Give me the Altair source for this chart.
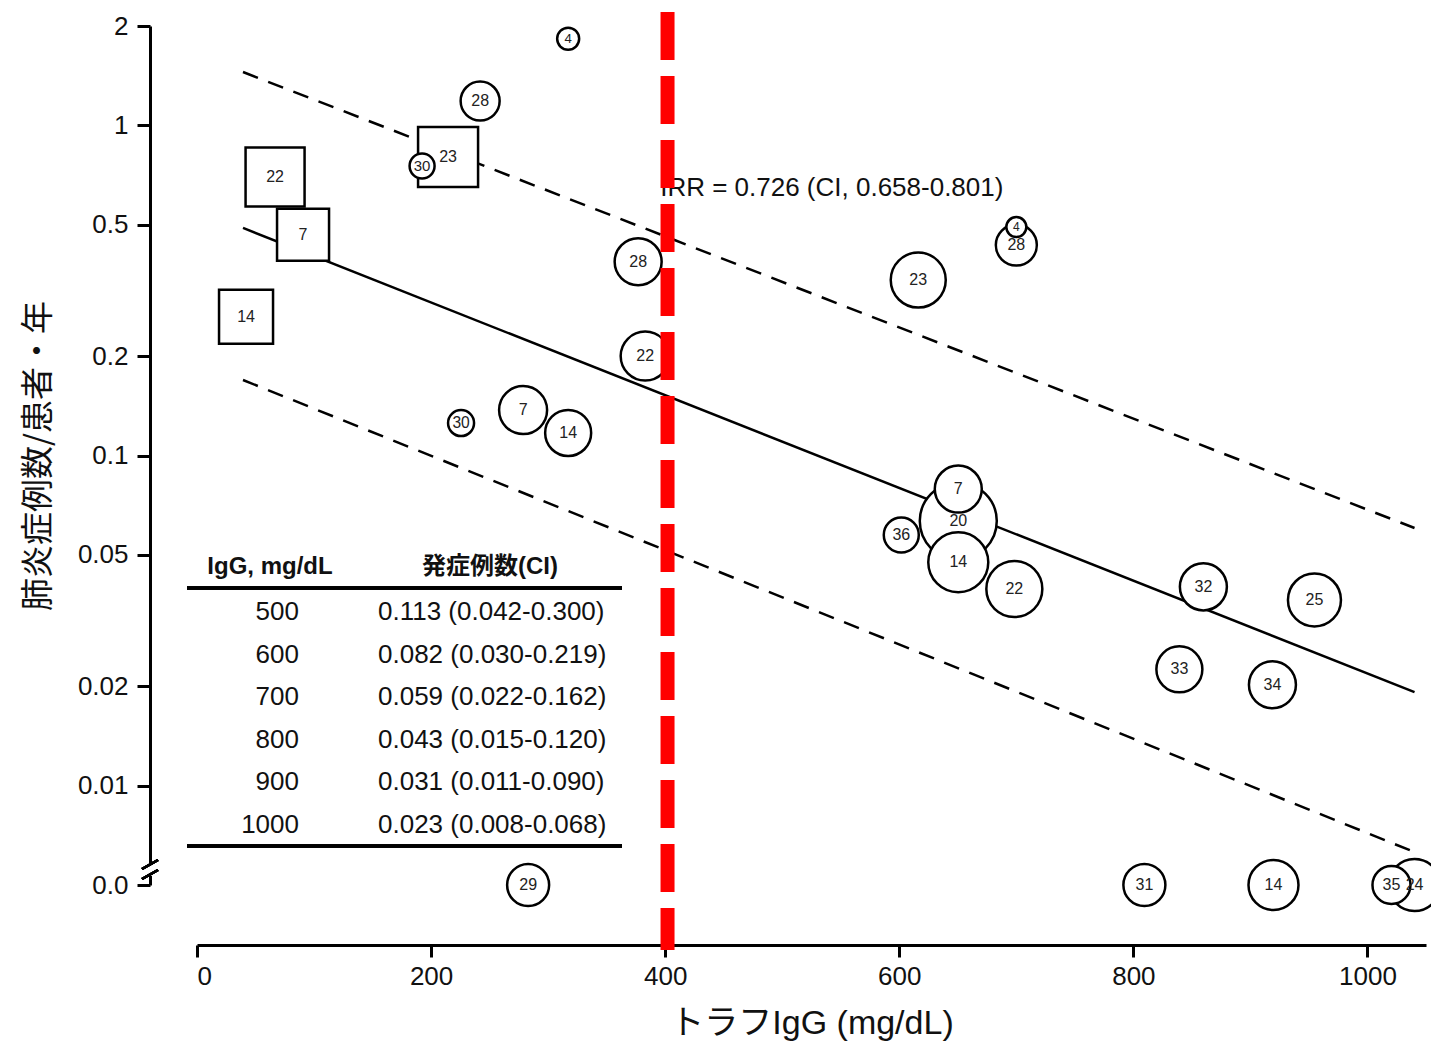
import altair as alt
import pandas as pd
import numpy as np

# ---------------- data ----------------
study_ids = ["22", "7", "14", "23",
             "4", "28", "30", "28", "22", "30", "7", "14", "23", "4", "28",
             "7", "20", "14", "36", "22", "32", "25", "33", "34",
             "29", "31", "14", "35", "24"]
trough_igg = [66.7, 90.6, 41.9, 214.5,
              317.1, 241.9, 192.3, 376.9, 382.9, 225.6, 278.6, 317.1, 616.2, 700.0, 700.0,
              650.4, 650.4, 650.4, 601.7, 698.3, 859.8, 954.7, 839.3, 918.8,
              282.9, 809.4, 919.7, 1020.5, 1040.2]
pneumonia_rate = [0.698, 0.466, 0.263, 0.802,
                  1.83, 1.185, 0.753, 0.386, 0.200, 0.1254, 0.1373, 0.117, 0.340, 0.492, 0.434,
                  0.0791, 0.0633, 0.0475, 0.0574, 0.0394, 0.0400, 0.0365, 0.0225, 0.0202,
                  0.0, 0.0, 0.0, 0.0, 0.0]
study_design = ["square"] * 4 + ["circle"] * 25
study_weight = [59, 52, 54, 60,
                22, 39, 25, 47, 49, 26, 48, 46, 55, 20, 41,
                47, 77, 60, 35, 56, 47, 53, 46, 47,
                42, 42, 50, 38, 52]

fit_igg = [39.3, 1040.2]
fit_rate = [0.489, 0.0192]
fit_upper = [1.451, 0.0603]
fit_lower = [0.1693, 0.00629]

threshold_igg = 402
irr_text = "IRR = 0.726 (CI, 0.658-0.801)"

table_igg = ["500", "600", "700", "800", "900", "1000"]
table_rate = ["0.113 (0.042-0.300)", "0.082 (0.030-0.219)", "0.059 (0.022-0.162)",
              "0.043 (0.015-0.120)", "0.031 (0.011-0.090)", "0.023 (0.008-0.068)"]
table_header = ["IgG, mg/dL", "発症例数(CI)"]

y_ticks = [0.005, 0.01, 0.02, 0.05, 0.1, 0.2, 0.5, 1, 2]
x_ticks = [0, 200, 400, 600, 800, 1000]

# ---------------- layout ----------------
W, H = 1229, 859
ZERO_POS = 0.005
LATIN = "Liberation Sans"
CJK = "Noto Sans CJK JP"
MIXED = "Liberation Sans, Noto Sans CJK JP"

xs = alt.Scale(domain=[0, 1050], nice=False, zero=False)
ys = alt.Scale(type="log", domain=[ZERO_POS, 2], nice=False)

pts = pd.DataFrame({
    "id": study_ids, "igg": trough_igg, "rate": pneumonia_rate,
    "shape": study_design, "w": study_weight,
})
pts["ypos"] = np.where(pts["rate"] <= 0, ZERO_POS, pts["rate"])
pts["size"] = pts["w"] ** 2
pts["fs"] = np.minimum(16, 0.6 * pts["w"])
pts = pts.sort_values("w", ascending=False).reset_index(drop=True)
pts["ord"] = np.arange(len(pts))

fit = pd.DataFrame({"igg": fit_igg, "mid": fit_rate, "up": fit_upper, "lo": fit_lower})

X = alt.X("igg:Q", scale=xs, axis=alt.Axis(
    title="トラフIgG (mg/dL)", values=x_ticks, format="d", offset=60, grid=False,
    domainWidth=3, tickWidth=3, tickSize=12, labelFontSize=26, labelPadding=6,
    titleFontSize=34, titleFont=MIXED, titleFontWeight="normal", titlePadding=17,
    labelFont=LATIN, domainColor="black", tickColor="black", labelColor="#111",
    titleColor="#111"))

Yaxis = alt.Axis(
    title="肺炎症例数/患者・年", values=y_ticks, offset=47, grid=False,
    labelExpr="datum.value < 0.006 ? '0.0' : '' + datum.value",
    domainWidth=3, tickWidth=3, tickSize=13, labelFontSize=26, labelPadding=9,
    titleFontSize=33, titleFont=CJK, titleFontWeight="normal", titlePadding=22,
    labelFont=LATIN, domainColor="black", tickColor="black", labelColor="#111",
    titleColor="#111")

base_fit = alt.Chart(fit)
mid_line = base_fit.mark_line(color="black", strokeWidth=2.5).encode(
    x=X, y=alt.Y("mid:Q", scale=ys, axis=Yaxis))
up_line = base_fit.mark_line(color="black", strokeWidth=2.5, strokeDash=[16, 11]).encode(
    x="igg:Q", y="up:Q")
lo_line = base_fit.mark_line(color="black", strokeWidth=2.5, strokeDash=[16, 11]).encode(
    x="igg:Q", y="lo:Q")

markers = alt.Chart(pts).mark_point(
    filled=True, fill="white", stroke="black", strokeWidth=2.5, opacity=1, fillOpacity=1
).encode(
    x="igg:Q", y="ypos:Q",
    shape=alt.Shape("shape:N", scale=None),
    size=alt.Size("size:Q", scale=None),
    order=alt.Order("ord:Q"),
)
marker_labels = alt.Chart(pts).mark_text(font=LATIN, color="#222").encode(
    x="igg:Q", y="ypos:Q", text="id:N",
    size=alt.Size("fs:Q", scale=None),
)

irr = alt.Chart(pd.DataFrame({"igg": [395.7], "r": [0.647], "t": [irr_text]})).mark_text(
    font=LATIN, fontSize=26, align="left", baseline="middle", color="#111"
).encode(x="igg:Q", y="r:Q", text="t:N")

# --- inset table (pixel layout inside the plot area) ---
ROW0, STEP = 586, 42.6
tab = pd.DataFrame({"igg": table_igg, "rate": table_rate})
tab["py"] = ROW0 + STEP * np.arange(len(tab))
tab["px1"] = 102
tab["px2"] = 181
col1 = alt.Chart(tab).mark_text(font=LATIN, fontSize=26, align="right", baseline="middle", color="#111").encode(
    x=alt.X("px1:Q", scale=None), y=alt.Y("py:Q", scale=None), text="igg:N")
col2 = alt.Chart(tab).mark_text(font=LATIN, fontSize=26, align="left", baseline="middle", color="#111").encode(
    x=alt.X("px2:Q", scale=None), y=alt.Y("py:Q", scale=None), text="rate:N")
hdr = pd.DataFrame({"t": table_header, "px": [73, 293], "py": [541, 541]})
header = alt.Chart(hdr).mark_text(font=MIXED, fontSize=24, fontWeight="bold", align="center",
                                  baseline="middle", color="#111").encode(
    x=alt.X("px:Q", scale=None), y=alt.Y("py:Q", scale=None), text="t:N")
top_rule = alt.Chart(tab).mark_rule(color="black", strokeWidth=3).encode(
    x=alt.value(-10), x2=alt.value(425), y=alt.value(562))
bot_rule = alt.Chart(tab).mark_rule(color="black", strokeWidth=3).encode(
    x=alt.value(-10), x2=alt.value(425), y=alt.value(820))

# --- axis break on y axis ---
gap = alt.Chart(tab).mark_rule(color="white", strokeWidth=8).encode(
    x=alt.value(-47), x2=alt.value(-47), y=alt.value(838), y2=alt.value(850))
slash1 = alt.Chart(tab).mark_rule(color="black", strokeWidth=2.5).encode(
    x=alt.value(-55), x2=alt.value(-39), y=alt.value(843), y2=alt.value(834))
slash2 = alt.Chart(tab).mark_rule(color="black", strokeWidth=2.5).encode(
    x=alt.value(-55), x2=alt.value(-39), y=alt.value(853), y2=alt.value(844))

# --- red threshold line ---
red = alt.Chart(pd.DataFrame({"igg": [threshold_igg], "top": [2.205], "bot": [0.00318]})).mark_rule(
    color="#ff0000", strokeWidth=14, strokeDash=[48, 16]
).encode(x="igg:Q", y="top:Q", y2="bot:Q")

chart = alt.layer(
    mid_line, up_line, lo_line, markers, marker_labels, irr,
    col1, col2, header, top_rule, bot_rule, gap, slash1, slash2, red
).properties(
    width=W, height=H,
    padding={"left": 189, "top": 18, "right": 5, "bottom": 160},
    autosize=alt.AutoSizeParams(type="none"),
    background="white",
).configure_view(stroke=None)

chart.save("out.html", embed_options={"renderer": "svg", "actions": False})
